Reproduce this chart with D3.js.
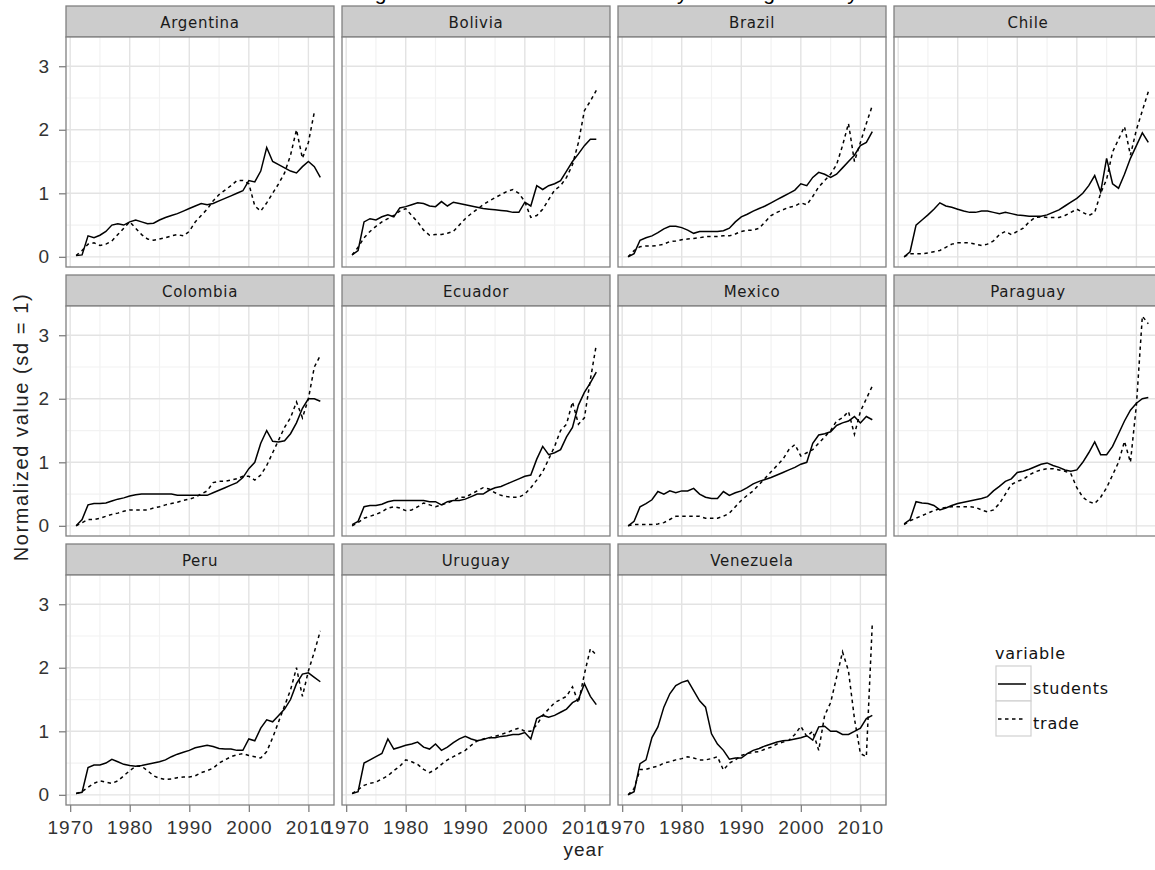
<!DOCTYPE html>
<html>
<head>
<meta charset="utf-8">
<script src="https://cdn.jsdelivr.net/npm/d3@7"></script>
<style>
  body { margin: 0; background: #fff; }
  svg { display: block; }
</style>
</head>
<body>
<svg id="chart" width="1155" height="870"></svg>
<script>
// values (normalized, sd = 1), one per year 1971..2012
var years = [1971, 1972, 1973, 1974, 1975, 1976, 1977, 1978, 1979, 1980,
             1981, 1982, 1983, 1984, 1985, 1986, 1987, 1988, 1989, 1990,
             1991, 1992, 1993, 1994, 1995, 1996, 1997, 1998, 1999, 2000,
             2001, 2002, 2003, 2004, 2005, 2006, 2007, 2008, 2009, 2010,
             2011, 2012];

var countries = ["Argentina", "Bolivia", "Brazil", "Chile", "Colombia", "Ecuador",
                 "Mexico", "Paraguay", "Peru", "Uruguay", "Venezuela"];

var seriesNames = ["students", "trade"];

var argentinaStudents = [0.02,0.03,0.33,0.3,0.34,0.4,0.5,0.52,0.5,0.55,
  0.58,0.55,0.52,0.53,0.58,0.62,0.65,0.68,0.72,0.76,
  0.8,0.84,0.82,0.84,0.88,0.92,0.96,1.0,1.04,1.2,
  1.18,1.35,1.72,1.5,1.45,1.4,1.35,1.32,1.42,1.5,
  1.42,1.25];
var argentinaTrade = [0.02,0.1,0.2,0.22,0.18,0.2,0.25,0.35,0.45,0.55,
  0.45,0.35,0.28,0.26,0.28,0.3,0.33,0.35,0.33,0.4,
  0.55,0.65,0.75,0.88,0.98,1.05,1.12,1.2,1.2,1.15,
  0.8,0.72,0.85,1.0,1.15,1.32,1.6,2.0,1.55,1.8,
  2.28,null];

var boliviaStudents = [0.03,0.1,0.55,0.6,0.58,0.63,0.66,0.63,0.77,0.79,
  0.82,0.85,0.84,0.8,0.79,0.87,0.8,0.86,0.84,0.82,
  0.8,0.78,0.76,0.75,0.74,0.73,0.72,0.7,0.7,0.86,
  0.8,1.12,1.06,1.12,1.15,1.2,1.35,1.5,1.62,1.75,
  1.85,1.85];
var boliviaTrade = [0.03,0.15,0.3,0.4,0.48,0.55,0.6,0.65,0.72,0.76,
  0.65,0.55,0.42,0.34,0.35,0.35,0.37,0.4,0.5,0.6,
  0.68,0.75,0.82,0.88,0.93,0.98,1.03,1.06,1.0,0.87,
  0.62,0.65,0.75,0.9,1.05,1.12,1.25,1.45,1.8,2.3,
  2.45,2.62];

var brazilStudents = [0.0,0.05,0.26,0.3,0.33,0.38,0.44,0.48,0.48,0.46,
  0.42,0.37,0.4,0.4,0.4,0.4,0.41,0.45,0.55,0.63,
  0.67,0.72,0.76,0.8,0.85,0.9,0.95,1.0,1.05,1.15,
  1.12,1.25,1.33,1.3,1.25,1.3,1.4,1.5,1.6,1.75,
  1.8,1.97];
var brazilTrade = [0.0,0.1,0.16,0.17,0.17,0.18,0.2,0.24,0.25,0.27,
  0.28,0.29,0.3,0.32,0.32,0.32,0.33,0.33,0.36,0.4,
  0.42,0.42,0.45,0.55,0.65,0.7,0.74,0.78,0.8,0.85,
  0.82,0.95,1.1,1.2,1.3,1.45,1.75,2.1,1.5,1.8,
  2.1,2.38];

var chileStudents = [0.0,0.08,0.5,0.58,0.66,0.75,0.85,0.8,0.78,0.75,
  0.72,0.7,0.7,0.72,0.72,0.7,0.68,0.7,0.68,0.66,
  0.65,0.64,0.64,0.64,0.66,0.7,0.74,0.8,0.86,0.92,
  1.0,1.12,1.28,1.02,1.55,1.15,1.08,1.3,1.55,1.75,
  1.95,1.8];
var chileTrade = [0.0,0.05,0.05,0.05,0.06,0.08,0.1,0.15,0.2,0.22,
  0.22,0.22,0.2,0.18,0.2,0.25,0.35,0.4,0.35,0.4,
  0.45,0.55,0.62,0.63,0.62,0.62,0.62,0.65,0.7,0.75,
  0.7,0.65,0.7,1.0,1.22,1.65,1.85,2.05,1.6,2.0,
  2.3,2.6];

var colombiaStudents = [0.0,0.1,0.33,0.35,0.35,0.36,0.39,0.42,0.44,0.47,
  0.49,0.5,0.5,0.5,0.5,0.5,0.5,0.48,0.48,0.48,
  0.48,0.48,0.48,0.52,0.56,0.6,0.64,0.68,0.76,0.9,
  1.0,1.3,1.5,1.33,1.32,1.34,1.45,1.62,1.85,2.0,
  2.0,1.96];
var colombiaTrade = [0.0,0.05,0.1,0.1,0.12,0.15,0.18,0.2,0.23,0.25,
  0.25,0.25,0.25,0.28,0.3,0.33,0.35,0.37,0.4,0.42,
  0.45,0.5,0.55,0.68,0.7,0.7,0.72,0.74,0.78,0.78,
  0.72,0.8,0.95,1.15,1.35,1.55,1.7,1.95,1.7,2.0,
  2.5,2.68];

var ecuadorStudents = [0.02,0.07,0.3,0.32,0.32,0.34,0.38,0.4,0.4,0.4,
  0.4,0.4,0.4,0.38,0.38,0.33,0.38,0.4,0.4,0.42,
  0.46,0.5,0.5,0.56,0.6,0.62,0.66,0.7,0.74,0.78,
  0.8,1.05,1.25,1.12,1.15,1.2,1.4,1.55,1.9,2.1,
  2.25,2.42];
var ecuadorTrade = [0.0,0.05,0.12,0.15,0.18,0.22,0.28,0.3,0.28,0.24,
  0.25,0.3,0.36,0.33,0.3,0.33,0.36,0.4,0.45,0.45,
  0.5,0.55,0.6,0.58,0.52,0.48,0.46,0.45,0.45,0.5,
  0.6,0.72,0.85,1.05,1.25,1.5,1.6,1.95,1.6,1.7,
  2.3,2.85];

var mexicoStudents = [0.0,0.07,0.3,0.35,0.41,0.54,0.5,0.55,0.52,0.55,
  0.55,0.59,0.5,0.45,0.43,0.43,0.54,0.48,0.52,0.55,
  0.6,0.66,0.7,0.73,0.76,0.8,0.84,0.88,0.92,0.97,
  1.0,1.3,1.43,1.45,1.48,1.58,1.62,1.65,1.72,1.62,
  1.72,1.67];
var mexicoTrade = [0.0,0.02,0.02,0.02,0.02,0.03,0.05,0.1,0.15,0.15,
  0.15,0.15,0.15,0.12,0.12,0.12,0.15,0.2,0.3,0.4,
  0.48,0.55,0.65,0.75,0.85,0.95,1.05,1.2,1.28,1.1,
  1.15,1.2,1.3,1.4,1.5,1.65,1.7,1.8,1.44,1.8,
  2.0,2.2];

var paraguayStudents = [0.03,0.1,0.38,0.36,0.35,0.32,0.25,0.28,0.32,0.35,
  0.37,0.39,0.41,0.43,0.46,0.55,0.62,0.7,0.74,0.84,
  0.86,0.89,0.93,0.97,0.99,0.95,0.92,0.88,0.86,0.88,
  1.0,1.15,1.32,1.12,1.12,1.25,1.45,1.65,1.82,1.93,
  2.0,2.02];
var paraguayTrade = [0.02,0.08,0.12,0.16,0.2,0.24,0.27,0.29,0.3,0.3,
  0.3,0.3,0.29,0.25,0.22,0.25,0.35,0.5,0.65,0.7,
  0.73,0.8,0.85,0.88,0.9,0.9,0.88,0.86,0.82,0.6,
  0.45,0.38,0.35,0.45,0.6,0.8,1.0,1.33,1.0,1.9,
  3.3,3.18];

var peruStudents = [0.02,0.04,0.43,0.47,0.47,0.5,0.56,0.52,0.48,0.46,
  0.45,0.46,0.48,0.5,0.52,0.55,0.6,0.64,0.67,0.7,
  0.74,0.76,0.78,0.76,0.73,0.72,0.72,0.7,0.7,0.88,
  0.85,1.05,1.18,1.15,1.25,1.35,1.5,1.75,1.9,1.92,
  1.85,1.78];
var peruTrade = [0.02,0.05,0.12,0.18,0.22,0.2,0.18,0.22,0.3,0.38,
  0.45,0.45,0.38,0.3,0.26,0.24,0.25,0.27,0.28,0.28,
  0.3,0.35,0.38,0.42,0.5,0.55,0.6,0.63,0.65,0.62,
  0.6,0.58,0.68,0.9,1.15,1.4,1.65,2.0,1.55,1.95,
  2.25,2.58];

var uruguayStudents = [0.02,0.05,0.5,0.55,0.6,0.65,0.88,0.72,0.75,0.78,
  0.8,0.83,0.75,0.72,0.8,0.7,0.75,0.82,0.88,0.92,
  0.88,0.85,0.87,0.9,0.9,0.92,0.93,0.95,0.95,0.98,
  0.88,1.2,1.25,1.22,1.25,1.3,1.35,1.45,1.5,1.75,
  1.55,1.42];
var uruguayTrade = [0.02,0.08,0.15,0.18,0.2,0.25,0.3,0.38,0.45,0.55,
  0.52,0.48,0.4,0.35,0.4,0.48,0.55,0.6,0.65,0.7,
  0.78,0.85,0.88,0.9,0.92,0.95,0.98,1.02,1.05,1.0,
  1.0,1.1,1.25,1.35,1.45,1.5,1.55,1.7,1.45,1.9,
  2.3,2.2];

var venezuelaStudents = [0.0,0.05,0.49,0.55,0.9,1.07,1.38,1.59,1.72,1.77,
  1.8,1.64,1.48,1.38,0.96,0.8,0.7,0.56,0.58,0.58,
  0.65,0.7,0.73,0.77,0.8,0.83,0.85,0.86,0.88,0.9,
  0.93,0.86,1.07,1.08,1.0,1.0,0.95,0.95,1.0,1.05,
  1.2,1.25];
var venezuelaTrade = [0.0,0.1,0.4,0.4,0.43,0.45,0.5,0.52,0.55,0.57,
  0.6,0.58,0.55,0.55,0.57,0.6,0.39,0.5,0.55,0.62,
  0.65,0.67,0.68,0.72,0.75,0.8,0.83,0.86,0.95,1.08,
  0.92,1.0,0.7,1.25,1.45,1.85,2.25,1.95,1.2,0.65,
  0.6,2.7];

var xTicks = [1970, 1980, 1990, 2000, 2010];
var xMinor = [1975, 1985, 1995, 2005];
var yTicks = [0, 1, 2, 3];
var yMinor = [0.5, 1.5, 2.5];

var titleText = "Figure 5 - Students and trade by sending country";
var xTitle = "year";
var yTitle = "Normalized value (sd = 1)";
var legendTitle = "variable";

// lookup built from the arrays above
var table = {
  Argentina: [argentinaStudents, argentinaTrade],
  Bolivia: [boliviaStudents, boliviaTrade],
  Brazil: [brazilStudents, brazilTrade],
  Chile: [chileStudents, chileTrade],
  Colombia: [colombiaStudents, colombiaTrade],
  Ecuador: [ecuadorStudents, ecuadorTrade],
  Mexico: [mexicoStudents, mexicoTrade],
  Paraguay: [paraguayStudents, paraguayTrade],
  Peru: [peruStudents, peruTrade],
  Uruguay: [uruguayStudents, uruguayTrade],
  Venezuela: [venezuelaStudents, venezuelaTrade]
};

var ncol = 4,
    lastRow = Math.floor((countries.length - 1) / ncol),
    panelW = 268,
    stripH = 31,
    plotH = 230,
    offsetLeft = 66,
    offsetTop = 6,
    gap = 8,
    axisFont = "'Liberation Sans', Arial, sans-serif",
    stripFont = "'DejaVu Sans', Verdana, sans-serif",
    dashes = { students: null, trade: "3.5,3.5" };

var svg = d3.select("#chart");

var x = d3.scaleLinear().domain([1969.3, 2014.3]).range([0, panelW]);
var y = d3.scaleLinear().domain([-0.16, 3.46]).range([plotH, 0]);

var line = d3.line()
    .defined(d => d.v != null)
    .x(d => x(d.year))
    .y(d => y(d.v));

// title sits mostly above the picture, only descenders show
svg.append("text")
    .attr("x", 607)
    .attr("y", 0)
    .attr("text-anchor", "middle")
    .style("font-family", axisFont)
    .style("font-size", "21px")
    .style("letter-spacing", "1px")
    .style("fill", "#000")
    .text(titleText);

countries.forEach(function(name, i) {
    var col = i % ncol,
        row = Math.floor(i / ncol),
        px = offsetLeft + col * (panelW + gap),
        py = offsetTop + row * (stripH + plotH + gap);

    var strip = svg.append("g").attr("transform", "translate(" + px + "," + py + ")");
    strip.append("rect")
        .attr("width", panelW)
        .attr("height", stripH)
        .style("fill", "#cccccc")
        .style("stroke", "#808080")
        .style("stroke-width", 1.3);
    strip.append("text")
        .attr("x", panelW / 2)
        .attr("y", 22)
        .attr("text-anchor", "middle")
        .style("font-family", stripFont)
        .style("font-size", "15px")
        .style("letter-spacing", "0.7px")
        .style("fill", "#1a1a1a")
        .text(name);

    var g = svg.append("g").attr("transform", "translate(" + px + "," + (py + stripH) + ")");

    g.append("rect")
        .attr("width", panelW)
        .attr("height", plotH)
        .style("fill", "#fff");

    g.selectAll(".xminor").data(xMinor).enter().append("line")
        .attr("x1", d => x(d)).attr("x2", d => x(d))
        .attr("y1", 0).attr("y2", plotH)
        .style("stroke", "#f2f2f2").style("stroke-width", 1.2);
    g.selectAll(".yminor").data(yMinor).enter().append("line")
        .attr("x1", 0).attr("x2", panelW)
        .attr("y1", d => y(d)).attr("y2", d => y(d))
        .style("stroke", "#f2f2f2").style("stroke-width", 1.2);
    g.selectAll(".xmajor").data(xTicks).enter().append("line")
        .attr("x1", d => x(d)).attr("x2", d => x(d))
        .attr("y1", 0).attr("y2", plotH)
        .style("stroke", "#e3e3e3").style("stroke-width", 1.4);
    g.selectAll(".ymajor").data(yTicks).enter().append("line")
        .attr("x1", 0).attr("x2", panelW)
        .attr("y1", d => y(d)).attr("y2", d => y(d))
        .style("stroke", "#e3e3e3").style("stroke-width", 1.4);

    seriesNames.forEach(function(s, k) {
        var pts = years.map((yr, j) => ({ year: yr, v: table[name][k][j] }));
        g.append("path")
            .datum(pts)
            .attr("d", line)
            .style("fill", "none")
            .style("stroke", "#000")
            .style("stroke-width", 1.5)
            .style("stroke-dasharray", dashes[s]);
    });

    g.append("rect")
        .attr("width", panelW)
        .attr("height", plotH)
        .style("fill", "none")
        .style("stroke", "#808080")
        .style("stroke-width", 1.3);

    if (col === 0) {
        var ya = g.append("g")
            .call(d3.axisLeft(y).tickValues(yTicks).tickSize(7).tickPadding(9).tickFormat(d3.format("d")));
        styleAxis(ya);
    }
    if (row === lastRow) {
        var xa = g.append("g")
            .attr("transform", "translate(0," + plotH + ")")
            .call(d3.axisBottom(x).tickValues(xTicks).tickSize(7).tickPadding(9).tickFormat(d3.format("d")));
        styleAxis(xa);
    }
});

function styleAxis(a) {
    a.select(".domain").remove();
    a.selectAll(".tick line").style("stroke", "#808080").style("stroke-width", 1.3);
    a.selectAll(".tick text")
        .style("font-family", axisFont)
        .style("font-size", "19px")
        .style("letter-spacing", "1px")
        .style("fill", "#333");
}

svg.append("text")
    .attr("x", 584)
    .attr("y", 856)
    .attr("text-anchor", "middle")
    .style("font-family", axisFont)
    .style("font-size", "19px")
    .style("letter-spacing", "1px")
    .style("fill", "#222")
    .text(xTitle);

svg.append("text")
    .attr("transform", "translate(28,427) rotate(-90)")
    .attr("text-anchor", "middle")
    .style("font-family", axisFont)
    .style("font-size", "20px")
    .style("letter-spacing", "1.6px")
    .style("fill", "#222")
    .text(yTitle);

// legend
var legend = svg.append("g").attr("transform", "translate(996,666)");
legend.append("text")
    .attr("x", -1)
    .attr("y", -7)
    .style("font-family", stripFont)
    .style("font-size", "16px")
    .style("letter-spacing", "0.8px")
    .style("fill", "#111")
    .text(legendTitle);

var keys = legend.selectAll(".key").data(seriesNames).enter().append("g")
    .attr("transform", (d, k) => "translate(0," + (k * 35) + ")");
keys.append("rect")
    .attr("width", 35)
    .attr("height", 35)
    .style("fill", "#fff")
    .style("stroke", "#d0d0d0")
    .style("stroke-width", 1.2);
keys.append("line")
    .attr("x1", 2).attr("x2", 30)
    .attr("y1", 18).attr("y2", 18)
    .style("stroke", "#000")
    .style("stroke-width", 1.5)
    .style("stroke-dasharray", d => dashes[d]);
keys.append("text")
    .attr("x", 37)
    .attr("y", 28)
    .style("font-family", stripFont)
    .style("font-size", "16px")
    .style("letter-spacing", "0.8px")
    .style("fill", "#111")
    .text(d => d);
</script>
</body>
</html>
